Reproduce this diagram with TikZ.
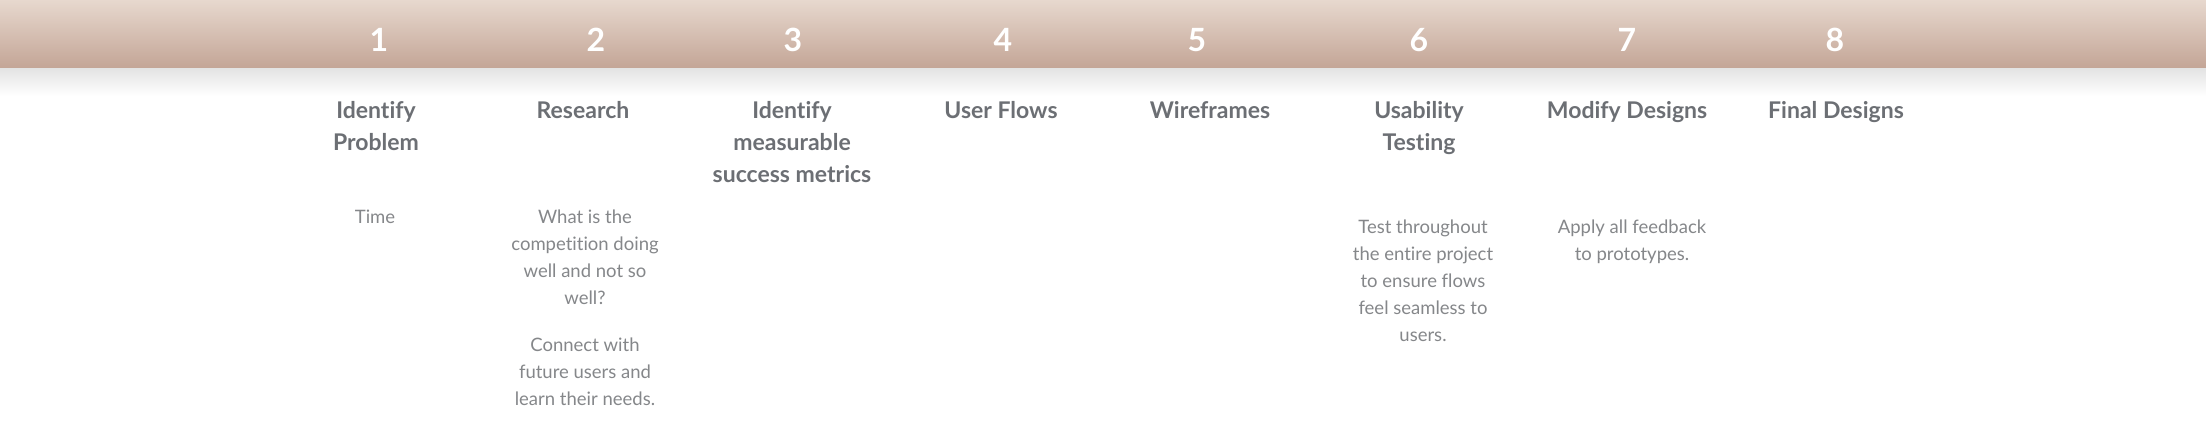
\documentclass[tikz,border=0pt]{standalone}
\usepackage{fontspec}
\setmainfont{Lato}[RawFeature={-liga}]
\definecolor{bartop}{HTML}{E7D8CE}
\definecolor{barbot}{HTML}{C4A697}
\definecolor{titlegray}{HTML}{6C6F74}
\definecolor{bodygray}{HTML}{85878A}
\definecolor{shadowgray}{HTML}{E2E2E2}
\begin{document}
\begin{tikzpicture}[x=1pt,y=-1pt,
  num/.style={text=white,font=\fontsize{32}{34}\selectfont\bfseries,inner sep=0pt,anchor=center},
  ttl/.style={text=titlegray,font=\fontsize{23}{32}\selectfont\bfseries,align=center,inner sep=0pt,anchor=north},
  body/.style={text=bodygray,font=\fontsize{18.5}{27}\selectfont,align=center,inner sep=0pt,anchor=north}]
\useasboundingbox (0,0) rectangle (2206,423);
\fill[white] (0,0) rectangle (2206,423);
% shadow
\shade[top color=shadowgray,bottom color=white] (0,67) rectangle (2206,96);
% bar
\shade[top color=bartop,bottom color=barbot] (0,0) rectangle (2206,67);
% numbers
\node[num] (n1) at (379,40) {1};
\node[num] (n2) at (596,40) {2};
\node[num] (n3) at (793,40) {3};
\node[num] (n4) at (1003,40) {4};
\node[num] (n5) at (1197,40) {5};
\node[num] (n6) at (1419,40) {6};
\node[num] (n7) at (1627,40) {7};
\node[num] (n8) at (1835,40) {8};
% titles
\node[ttl] (t1) at (376,101) {Identify\\Problem};
\node[ttl] (t2) at (583,101) {Research};
\node[ttl] (t3) at (792,101) {Identify\\measurable\\success metrics};
\node[ttl] (t4) at (1001,101) {User Flows};
\node[ttl] (t5) at (1210,101) {Wireframes};
\node[ttl] (t6) at (1419,101) {Usability\\Testing};
\node[ttl] (t7) at (1627,101) {Modify Designs};
\node[ttl] (t8) at (1836,101) {Final Designs};
% bodies
\node[body] (b1) at (375,210) {Time};
\node[body] (b2a) at (585,210) {What is the\\competition doing\\well and not so\\well?};
\node[body] (b2b) at (585,338) {Connect with\\future users and\\learn their needs.};
\node[body] (b6) at (1423,220) {Test throughout\\the entire project\\to ensure flows\\feel seamless to\\users.};
\node[body] (b7) at (1632,220) {Apply all feedback\\to prototypes.};
\end{tikzpicture}
\end{document}
